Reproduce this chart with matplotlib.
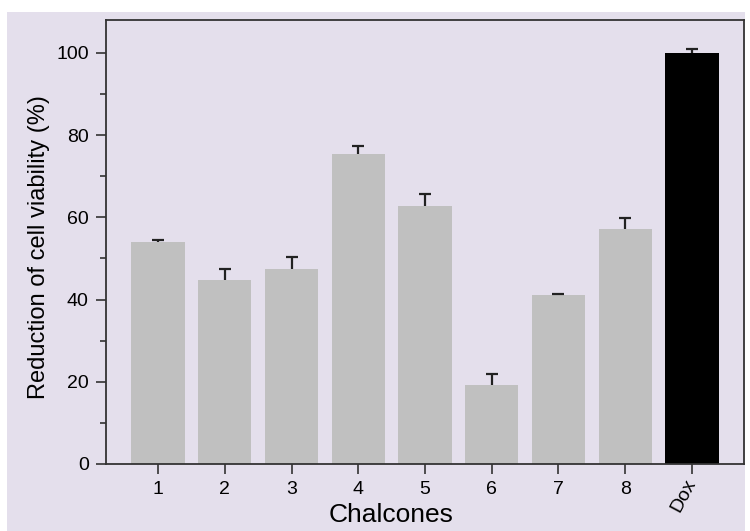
import numpy as np
import matplotlib
matplotlib.use("Agg")
import matplotlib.pyplot as plt
from matplotlib.patches import Rectangle
from matplotlib.ticker import MultipleLocator

# data
labels = ["1", "2", "3", "4", "5", "6", "7", "8", "Dox"]
values = [54.0, 44.8, 47.5, 75.5, 62.8, 19.3, 41.0, 57.1, 100.0]
errors = [0.4, 2.6, 2.9, 1.9, 2.8, 2.7, 0.3, 2.7, 0.9]
colors = ["#c0c0c0"] * 8 + ["#000000"]

plt.rcParams['font.family'] = ['Liberation Sans', 'DejaVu Sans']

fig = plt.figure(figsize=(7.5, 5.31), dpi=100)
fig.patch.set_facecolor("white")
# lavender panel behind everything
fig.patches.append(Rectangle((7 / 750, 0), 738 / 750, 519 / 531,
                             transform=fig.transFigure, facecolor="#e4dfec",
                             edgecolor="none", zorder=-10))

ax = fig.add_axes([106 / 750, 1 - 464 / 531, 638 / 750, 444 / 531])
ax.set_facecolor("#e4dfec")

x = np.arange(1, len(values) + 1)
tops = np.array(values) + np.array(errors)
ax.bar(x, values, width=0.8, color=colors, edgecolor="none", zorder=2)
# upper error bars only (stem + cap)
ax.vlines(x, values, tops, color="#222222", linewidth=1.6, zorder=3)
ax.plot(x, tops, linestyle="none", marker="_", markersize=8,
        markeredgewidth=1.6, color="#222222", zorder=3)

ax.set_xlim(0.22, 9.78)
ax.set_ylim(0, 108)
ax.yaxis.set_major_locator(MultipleLocator(20))
ax.yaxis.set_minor_locator(MultipleLocator(10))
ax.set_xticks(x)
ax.set_xticklabels(labels)
for t in ax.get_xticklabels():
    if t.get_text() == "Dox":
        t.set_rotation(62)
        t.set_ha("right")
        t.set_va("center")
        t.set_rotation_mode("anchor")
        t.set_fontsize(15.5)

for s in ax.spines.values():
    s.set_color("#333333")
    s.set_linewidth(1.3)

ax.tick_params(axis="both", which="major", direction="out", length=7,
               width=1.2, color="#333333", labelsize=14)
ax.tick_params(axis="y", which="minor", direction="out", length=4.5,
               width=1.2, color="#333333")
ax.tick_params(axis="y", which="major", pad=5.5)
ax.tick_params(axis="x", which="major", pad=5)

ax.set_xlabel("Chalcones", fontsize=19, va="top")
ax.xaxis.set_label_coords(0.447, -0.088)
ax.set_ylabel("Reduction of cell viability (%)", fontsize=17, va="bottom")
ax.yaxis.set_label_coords(-0.088, 0.488)

fig.savefig("out.png", dpi=100, facecolor=fig.get_facecolor())
